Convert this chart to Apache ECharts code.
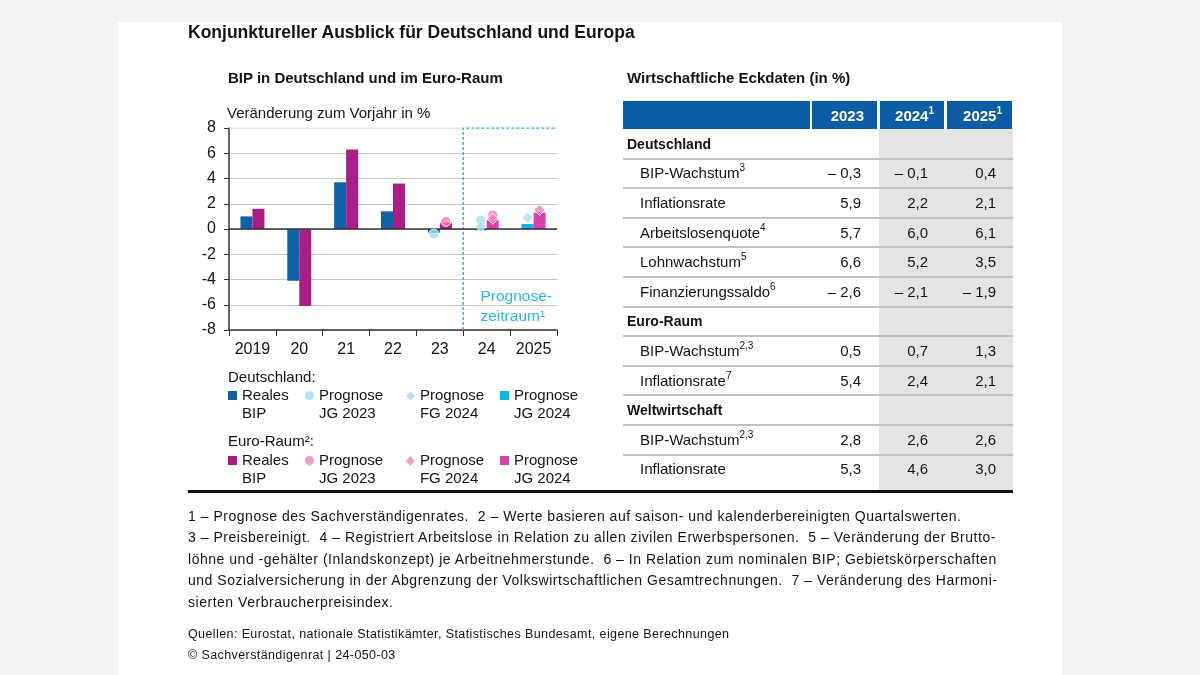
<!DOCTYPE html>
<html>
<head>
<meta charset="utf-8">
<script src="https://cdn.jsdelivr.net/npm/echarts@6/dist/echarts.min.js"></script>
<style>
html,body{margin:0;padding:0;width:1200px;height:675px;background:#f3f3f3;overflow:hidden;font-family:"Liberation Sans",Arial,sans-serif;color:#141414;}
#panel{position:absolute;left:118px;top:22px;width:944px;height:653px;background:#fff;}
#chart{position:absolute;left:0;top:0;width:1200px;height:675px;}
.t{position:absolute;white-space:pre;}
sup{font-size:10px;line-height:0;position:relative;top:-1px;}
</style>
</head>
<body>
<div id="panel"></div>
<div id="chart"></div>
<div id="html"></div>
<script>
// ---------- Chart data ----------
const years = ['2019', '20', '21', '22', '23', '24', '2025'];
const deRealBIP   = [1.0, -4.1, 3.7, 1.4, -0.3, null, null];
const euRealBIP   = [1.6, -6.1, 6.3, 3.6, 0.5, null, null];
const deJG2024    = [null, null, null, null, null, -0.1, 0.4];
const euJG2024    = [null, null, null, null, null, 0.7, 1.3];
const deJG2023    = [null, null, null, null, -0.4, 0.7, null];
const euJG2023    = [null, null, null, null, 0.6, 1.1, null];
const deFG2024    = [null, null, null, null, null, 0.2, 0.9];
const euFG2024    = [null, null, null, null, null, 0.8, 1.5];
const yTicks = ['-8', '-6', '-4', '-2', '0', '2', '4', '6', '8'];
const forecastStartYear = '24';

// ---------- Table data ----------
const tableYears = ['2023', '2024', '2025'];
const tableYearSup = ['', '1', '1'];
const sections = ['Deutschland', 'Euro-Raum', 'Weltwirtschaft'];
const deLabels = ['BIP-Wachstum', 'Inflationsrate', 'Arbeitslosenquote', 'Lohnwachstum', 'Finanzierungssaldo'];
const deSup    = ['3', '', '4', '5', '6'];
const de2023   = [-0.3, 5.9, 5.7, 6.6, -2.6];
const de2024   = [-0.1, 2.2, 6.0, 5.2, -2.1];
const de2025   = [0.4, 2.1, 6.1, 3.5, -1.9];
const euLabels = ['BIP-Wachstum', 'Inflationsrate'];
const euSup    = ['2,3', '7'];
const eu2023   = [0.5, 5.4];
const eu2024   = [0.7, 2.4];
const eu2025   = [1.3, 2.1];
const wwLabels = ['BIP-Wachstum', 'Inflationsrate'];
const wwSup    = ['2,3', ''];
const ww2023   = [2.8, 5.3];
const ww2024   = [2.6, 4.6];
const ww2025   = [2.6, 3.0];

// ---------- Text ----------
const mainTitle = 'Konjunktureller Ausblick für Deutschland und Europa';
const chartTitle = 'BIP in Deutschland und im Euro-Raum';
const tableTitle = 'Wirtschaftliche Eckdaten (in %)';
const footnotes = [
  '1 – Prognose des Sachverständigenrates.  2 – Werte basieren auf saison- und kalenderbereinigten Quartalswerten.',
  '3 – Preisbereinigt.  4 – Registriert Arbeitslose in Relation zu allen zivilen Erwerbspersonen.  5 – Veränderung der Brutto-',
  'löhne und -gehälter (Inlandskonzept) je Arbeitnehmerstunde.  6 – In Relation zum nominalen BIP; Gebietskörperschaften',
  'und Sozialversicherung in der Abgrenzung der Volkswirtschaftlichen Gesamtrechnungen.  7 – Veränderung des Harmoni-',
  'sierten Verbraucherpreisindex.'
];
const sources = [
  'Quellen: Eurostat, nationale Statistikämter, Statistisches Bundesamt, eigene Berechnungen',
  '© Sachverständigenrat | 24-050-03'
];

// ---------- Colours ----------
const C = {
  deReal: '#0e62a8', euReal: '#ab1d86',
  deJG24: '#1aaee6', euJG24: '#dc3fa9',
  deLight: '#a6daf2', euLight: '#f07fbd',
  cyan: '#33b3e2', grid: '#c8c8c8', axis: '#333333', text: '#141414'
};

// ---------- HTML parts ----------
const H = [];
function txt(left, cy, size, content, opts) {
  opts = opts || {};
  const lh = opts.lh || Math.round(size * 1.6);
  const style = `top:${(cy - lh / 2).toFixed(1)}px;font-size:${size}px;line-height:${lh}px;` +
    (opts.right != null ? `right:${1200 - opts.right}px;text-align:right;` : `left:${left}px;`) +
    (opts.bold ? 'font-weight:bold;' : '') + (opts.color ? `color:${opts.color};` : '') +
    (opts.ls ? `letter-spacing:${opts.ls}px;` : '');
  H.push(`<div class="t" style="${style}">${content}</div>`);
}
function box(l, t, w, h, bg) {
  H.push(`<div style="position:absolute;left:${l}px;top:${t}px;width:${w}px;height:${h}px;background:${bg};"></div>`);
}
function fmt(v) {
  return (v < 0 ? '– ' : '') + Math.abs(v).toFixed(1).replace('.', ',');
}

txt(188, 31.5, 17.5, mainTitle, {bold: true});
txt(228, 78, 15, chartTitle, {bold: true});
txt(627, 78, 15, tableTitle, {bold: true});

// table header
const colX = [[623, 810], [812, 877], [880, 944], [947, 1012]];
colX.forEach(c => box(c[0], 101, c[1] - c[0], 28, '#0b5ea6'));
const headRight = [864, 934, 1002];
tableYears.forEach((y, i) => {
  txt(0, 116, 15, y + (tableYearSup[i] ? `<sup>${tableYearSup[i]}</sup>` : ''), {right: headRight[i], bold: true, color: '#fff'});
});
// grey forecast columns
box(879, 129, 134, 361, '#e3e3e3');

const rowH = 29.6;
let y = 129;
const valRight = [861, 928, 996];
const groups = [
  [sections[0], deLabels, deSup, [de2023, de2024, de2025]],
  [sections[1], euLabels, euSup, [eu2023, eu2024, eu2025]],
  [sections[2], wwLabels, wwSup, [ww2023, ww2024, ww2025]]
];
let rowCount = 0;
const totalRows = groups.reduce((s, g) => s + 1 + g[1].length, 0);
groups.forEach(g => {
  txt(627, y + rowH / 2, 14, g[0], {bold: true});
  y += rowH; rowCount++;
  box(623, y - 1, 390, 2, '#c2c2c2');
  g[1].forEach((lab, i) => {
    txt(640, y + rowH / 2, 15, lab + (g[2][i] ? `<sup>${g[2][i]}</sup>` : ''));
    g[3].forEach((col, k) => txt(0, y + rowH / 2, 15, fmt(col[i]), {right: valRight[k]}));
    y += rowH; rowCount++;
    if (rowCount < totalRows) box(623, y - 1, 390, 2, '#c2c2c2');
  });
});
box(188, 489.5, 825, 3, '#111');

// footnotes
footnotes.forEach((f, i) => txt(188, 516 + i * 21.6, 14, f, {lh: 21, ls: 0.52}));
sources.forEach((s, i) => txt(188, 633.5 + i * 21, 12.5, s, {lh: 20, ls: 0.4}));

document.getElementById('html').innerHTML = H.join('');

// ---------- ECharts ----------
const chart = echarts.init(document.getElementById('chart'), null, {renderer: 'canvas'});
const yMin = Number(yTicks[0]), yMax = Number(yTicks[yTicks.length - 1]);
const fIdx = years.indexOf(forecastStartYear);
const nCat = years.length;

const extra = ' M0,27L0.001,27';
const icons = {
  rect: 'path://M0,0L9,0L9,9L0,9Z' + extra,
  circle: 'path://M9,4.5A4.5,4.5,0,1,1,0,4.5A4.5,4.5,0,1,1,9,4.5Z' + extra,
  diamond: 'path://M4.5,-0.5L9,4.5L4.5,9.5L0,4.5Z M0,27L0.001,27'
};

const N = {
  deR: 'Deutschland: Reales BIP', deC: 'Deutschland: Prognose JG 2023',
  deD: 'Deutschland: Prognose FG 2024', deS: 'Deutschland: Prognose JG 2024',
  euR: 'Euro-Raum: Reales BIP', euC: 'Euro-Raum: Prognose JG 2023',
  euD: 'Euro-Raum: Prognose FG 2024', euS: 'Euro-Raum: Prognose JG 2024'
};
function legendLabel(name) {
  const s = name.split(': ')[1];
  const k = s.indexOf(' ');
  return s.slice(0, k) + '\n' + s.slice(k + 1);
}
function leg(name, left, top, icon) {
  return {
    data: [name], left: left, top: top, padding: 0, itemWidth: 9, itemHeight: 27,
    icon: icons[icon], itemGap: 0, selectedMode: false, formatter: legendLabel,
    itemStyle: {borderWidth: 0},
    textStyle: {fontSize: 15, lineHeight: 18, color: C.text, fontFamily: 'Liberation Sans, Arial', padding: [0, 0, 0, 0]}
  };
}
const legendLefts = [228, 305, 406, 500];
const deTop = 386.5, euTop = 451.5;

const barW = 12, off = 6;
const scatterBase = {type: 'scatter', xAxisIndex: 0, yAxisIndex: 0, z: 5};

const option = {
  animation: false,
  textStyle: {fontFamily: 'Liberation Sans, Arial'},
  grid: {left: 229, right: 643, top: 128, bottom: 345, containLabel: false},
  xAxis: [{
    type: 'category', data: years,
    axisLine: {onZero: false, lineStyle: {color: C.axis, width: 1.5}},
    axisTick: {show: true, length: 6, lineStyle: {color: C.axis, width: 1}},
    axisLabel: {fontSize: 16, color: C.text, margin: 12},
    splitLine: {show: false}
  }, {
    type: 'value', min: 0, max: nCat, show: false
  }],
  yAxis: {
    type: 'value', min: yMin, max: yMax, interval: 2,
    axisLine: {show: true, lineStyle: {color: C.axis, width: 1.5}},
    axisTick: {show: true, length: 5, lineStyle: {color: C.axis}},
    axisLabel: {fontSize: 16, color: C.text, margin: 13},
    splitLine: {show: true, showMaxLine: false, lineStyle: {color: C.grid, width: 1}}
  },
  legend: [
    leg(N.deR, legendLefts[0], deTop, 'rect'), leg(N.deC, legendLefts[1], deTop, 'circle'),
    leg(N.deD, legendLefts[2], deTop, 'diamond'), leg(N.deS, legendLefts[3], deTop, 'rect'),
    leg(N.euR, legendLefts[0], euTop, 'rect'), leg(N.euC, legendLefts[1], euTop, 'circle'),
    leg(N.euD, legendLefts[2], euTop, 'diamond'), leg(N.euS, legendLefts[3], euTop, 'rect')
  ],
  graphic: [
    {type: 'text', left: 227, top: 106, style: {text: 'Veränderung zum Vorjahr in %', fontSize: 15, fill: C.text, fontFamily: 'Liberation Sans, Arial'}},
    {type: 'text', left: 228, top: 370, style: {text: 'Deutschland:', fontSize: 15, fill: C.text, fontFamily: 'Liberation Sans, Arial'}},
    {type: 'text', left: 228, top: 434, style: {text: 'Euro-Raum²:', fontSize: 15, fill: C.text, fontFamily: 'Liberation Sans, Arial'}},
    {type: 'text', right: 648, top: 287, style: {text: 'Prognose-\nzeitraum¹', fontSize: 15.5, lineHeight: 20, align: 'right', fill: C.cyan, fontFamily: 'Liberation Sans, Arial'}}
  ],
  series: [
    {name: N.deR, type: 'bar', stack: 'de', data: deRealBIP, barWidth: barW, barGap: '0%',
      itemStyle: {color: C.deReal},
      markLine: {silent: true, symbol: 'none', label: {show: false}, z: 4,
        lineStyle: {color: C.axis, width: 1.5, type: 'solid'}, data: [{yAxis: 0}]}},
    {name: N.deS, type: 'bar', stack: 'de', data: deJG2024, barWidth: barW, itemStyle: {color: C.deJG24}},
    {name: N.euR, type: 'bar', stack: 'eu', data: euRealBIP, barWidth: barW, itemStyle: {color: C.euReal}},
    {name: N.euS, type: 'bar', stack: 'eu', data: euJG2024, barWidth: barW, itemStyle: {color: C.euJG24}},
    Object.assign({}, scatterBase, {name: N.deC, data: deJG2023, symbol: 'circle', symbolSize: 10,
      symbolOffset: [-off, 0], itemStyle: {color: C.deLight, borderColor: '#fff', borderWidth: 1}}),
    Object.assign({}, scatterBase, {name: N.deD, data: deFG2024, symbol: 'diamond', symbolSize: 11,
      symbolOffset: [-off, 0], itemStyle: {color: C.deLight, borderColor: '#fff', borderWidth: 1}}),
    Object.assign({}, scatterBase, {name: N.euC, data: euJG2023, symbol: 'circle', symbolSize: 10,
      symbolOffset: [off, 0], itemStyle: {color: C.euLight, borderColor: '#fff', borderWidth: 1}}),
    Object.assign({}, scatterBase, {name: N.euD, data: euFG2024, symbol: 'diamond', symbolSize: 11,
      symbolOffset: [off, 0], itemStyle: {color: C.euLight, borderColor: '#fff', borderWidth: 1}}),
    // top grid line (solid) before forecast period
    {type: 'line', xAxisIndex: 1, yAxisIndex: 0, silent: true, symbol: 'none', z: 1,
      lineStyle: {color: C.grid, width: 1}, data: [[0, yMax], [fIdx, yMax]]},
    // forecast period boundary (dashed)
    {type: 'line', xAxisIndex: 1, yAxisIndex: 0, silent: true, symbol: 'none', z: 3,
      lineStyle: {color: C.cyan, width: 1.5, type: [3, 2]}, data: [[fIdx, yMin], [fIdx, yMax], [nCat, yMax]]}
  ]
};
chart.setOption(option);
</script>
</body>
</html>
